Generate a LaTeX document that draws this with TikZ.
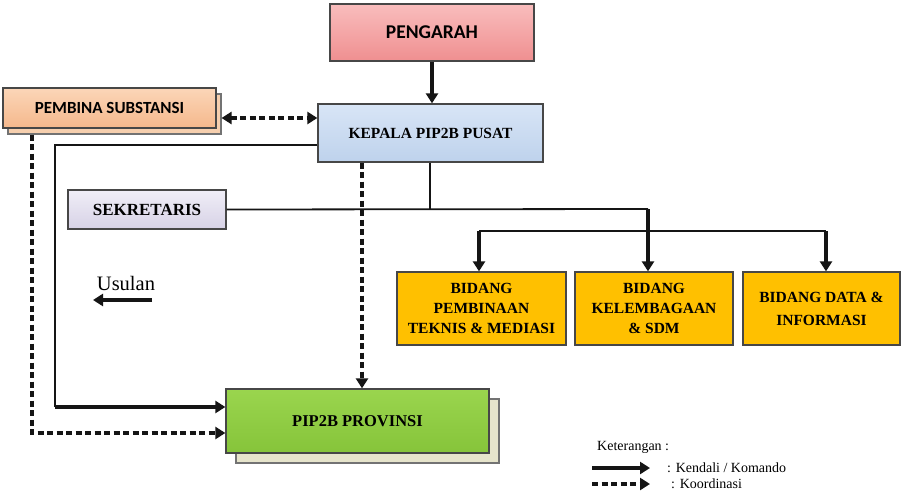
\documentclass[tikz,border=0pt]{standalone}
\usepackage{fontspec}
\setmainfont{Liberation Serif}
\newfontfamily\calib{Carlito}
\usetikzlibrary{arrows.meta,calc}
\definecolor{lnc}{HTML}{151515}
\definecolor{pembshc}{HTML}{F6CFAE}
\definecolor{provshc}{HTML}{E6E4CB}
\definecolor{pengt}{HTML}{F9BDBD}
\definecolor{pengb}{HTML}{EF8F90}
\definecolor{kept}{HTML}{D8E5F6}
\definecolor{kepb}{HTML}{BED2EC}
\definecolor{pembt}{HTML}{FBD6B8}
\definecolor{pembb}{HTML}{F5B88C}
\definecolor{sekt}{HTML}{F0EEF7}
\definecolor{sekb}{HTML}{D7D2E6}
\definecolor{gold}{HTML}{FFC000}
\definecolor{provt}{HTML}{9AD54E}
\definecolor{provb}{HTML}{86C43A}
\tikzset{
  boxbase/.style={draw=black!72, line width=1.3pt, align=center, inner sep=2pt},
  shadowbox/.style={draw=black!55, line width=1.1pt},
  tip/.style={-{Triangle[length=10pt,width=12pt]}},
  thinline/.style={draw=lnc, line width=1.8pt},
  cmdline/.style={draw=lnc, line width=3.8pt, tip},
  coordline/.style={draw=lnc, line width=3.6pt, dash pattern=on 6pt off 3.5pt},
  serifb/.style={font=\fontsize{15.5}{20}\selectfont\bfseries},
}
\begin{document}
\begin{tikzpicture}[x=1pt,y=-1pt]
\useasboundingbox[fill=white] (0,0) rectangle (905,495);
% shadows
\node[shadowbox, fill=pembshc, minimum width=213pt, minimum height=40pt] (pembsh) at (114.5,114) {};
\node[shadowbox, fill=provshc, minimum width=263pt, minimum height=64pt] (provsh) at (367.5,431) {};
% boxes
\node[boxbase, font=\calib\fontsize{19.5}{22}\selectfont\bfseries, top color=pengt, bottom color=pengb, minimum width=204pt, minimum height=57pt] (peng) at (432,32.5) {PENGARAH};
\node[boxbase, font=\fontsize{15.5}{18}\selectfont\bfseries, top color=kept, bottom color=kepb, minimum width=225pt, minimum height=58pt] (kep) at (430.5,133) {KEPALA PIP2B PUSAT};
\node[boxbase, font=\calib\fontsize{17}{20}\selectfont\bfseries, top color=pembt, bottom color=pembb, minimum width=213pt, minimum height=40pt] (pemb) at (109.5,108) {PEMBINA SUBSTANSI};
\node[boxbase, font=\fontsize{17}{20}\selectfont\bfseries, top color=sekt, bottom color=sekb, minimum width=158pt, minimum height=39pt] (sek) at (147,209.5) {SEKRETARIS};
\node[boxbase, serifb, fill=gold, minimum width=169pt, minimum height=73pt] (b1) at (481.5,308.5) {BIDANG\\PEMBINAAN\\TEKNIS \& MEDIASI};
\node[boxbase, serifb, fill=gold, minimum width=158pt, minimum height=73pt] (b2) at (654,308.5) {BIDANG\\KELEMBAGAAN\\\& SDM};
\node[boxbase, serifb, fill=gold, minimum width=157pt, minimum height=73pt] (b3) at (821.5,308.5) {BIDANG DATA \&\\[3pt]INFORMASI};
\node[boxbase, font=\fontsize{16.5}{20}\selectfont\bfseries, top color=provt, bottom color=provb, minimum width=263pt, minimum height=64pt] (prov) at (357.5,421) {PIP2B PROVINSI};
% helper coordinates
\coordinate (ypk) at (0,118);
\coordinate (ykl) at (0,145);
\coordinate (xd) at (32,0);
\coordinate (ydash) at (0,433);
\coordinate (xkd) at (362,0);
\coordinate (xks) at (430,0);
\coordinate (ysek) at (0,209);
\coordinate (ybus) at (0,231);
\coordinate (xb1) at (479,0);
\coordinate (xb2) at (648,0);
\coordinate (xb3) at (826,0);
\coordinate (lt) at (55,407);
% connectors
\draw[cmdline] (peng.south) -- (peng.south |- kep.north);
\draw[coordline, {Triangle[length=10pt,width=12pt]}-{Triangle[length=10pt,width=12pt]}] (pembsh.east |- ypk) -- (kep.west |- ypk);
\draw[thinline] (kep.west |- ykl) -| (lt);
\draw[cmdline] (lt) -- (prov.west |- lt);
\draw[coordline, tip] (pembsh.south -| xd) |- (prov.west |- ydash);
\draw[coordline, tip] (kep.south -| xkd) -- (prov.north -| xkd);
\draw[thinline] (kep.south -| xks) -- (xks |- ysek);
\draw[thinline] (sek.east) -- (xb2 |- ysek);
\draw[cmdline] (xb2 |- ysek) -- (b2.north -| xb2);
\draw[thinline, line width=2.2pt] (xb1 |- ybus) -- (xb3 |- ybus);
\draw[cmdline] (xb1 |- ybus) -- (b1.north -| xb1);
\draw[cmdline] (xb3 |- ybus) -- (b3.north -| xb3);
% usulan
\node[font=\fontsize{20.5}{24}\selectfont] (usl) at (126,283) {Usulan};
\coordinate (ua) at (152,300);
\coordinate (ub) at (93,300);
\draw[cmdline] (ua) -- (ub);
% legend
\node[anchor=west, font=\fontsize{14}{16}\selectfont, inner sep=0pt] (ket) at (597,447) {Keterangan :};
\coordinate (l1a) at (592,468);
\coordinate (l1b) at (650,468);
\coordinate (l2a) at (592,484);
\coordinate (l2b) at (650,484);
\draw[cmdline] (l1a) -- (l1b);
\draw[coordline, tip] (l2a) -- (l2b);
\node[anchor=west, font=\fontsize{14}{16}\selectfont, inner sep=0pt] (k1) at (667,468) {: Kendali / Komando};
\node[anchor=west, font=\fontsize{14}{16}\selectfont, inner sep=0pt] (k2) at (671,484) {: Koordinasi};
\end{tikzpicture}
\end{document}
